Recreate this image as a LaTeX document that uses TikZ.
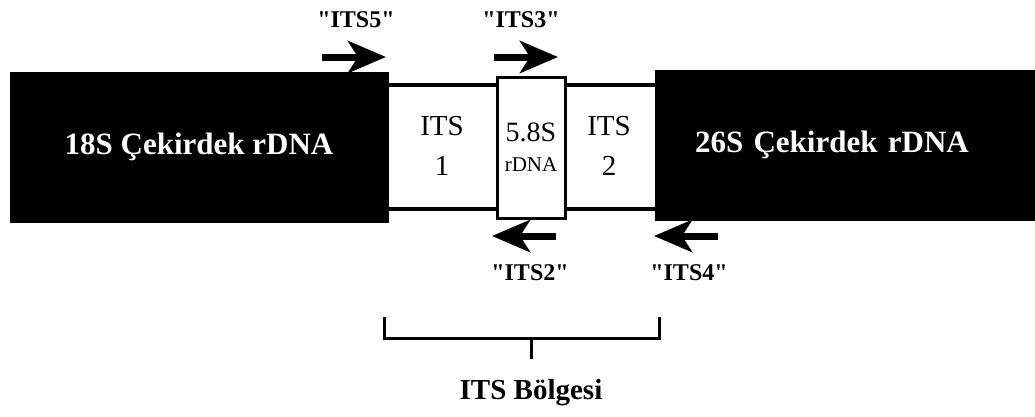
\documentclass[tikz,border=0pt]{standalone}
\usepackage{fontspec}
\setmainfont{Liberation Serif}
\usetikzlibrary{arrows.meta,positioning,calc}

\begin{document}
\begin{tikzpicture}[x=1pt,y=-1pt,
    gene/.style={fill=black, draw=black, text=white, inner sep=0pt,
      font=\fontsize{31}{34}\selectfont\bfseries, minimum height=150pt},
    band/.style={line width=3.5pt},
    primer/.style={-{Stealth[length=38pt,width=32pt,inset=10pt]}, line width=7pt},
    primerlbl/.style={font=\fontsize{24}{26}\selectfont\bfseries},
    seg/.style={font=\fontsize{29}{40}\selectfont, align=center}]
  \useasboundingbox (0,0) rectangle (1035,416);
  % Gene blocks
  \node[gene, minimum width=378pt] (s18) at (199,147) {18S Çekirdek rDNA};
  \node[gene, minimum width=380pt, text width=300pt, inner xsep=40pt, align=left]
    (s26) at (845,145) {26S Çekirdek rDNA};
  % ITS band
  \coordinate (bandtop) at (0,85);
  \coordinate (bandbot) at (0,209);
  \draw[band] (s18.east |- bandtop) -- (s26.west |- bandtop);
  \draw[band] (s18.east |- bandbot) -- (s26.west |- bandbot);
  \node[draw, fill=white, line width=3pt, minimum width=68pt, minimum height=141pt,
    inner sep=0pt, align=center] (s58) at (531,147.5)
    {{\fontsize{28}{30}\selectfont 5.8S}\\[15pt]{\fontsize{21}{23}\selectfont rDNA}};
  \node[seg] (its1) at (442,146) {ITS\\1};
  \node[seg] (its2) at (609,146) {ITS\\2};
  % Primers
  \coordinate (p5a) at (322,57);  \coordinate (p5b) at (386,57);
  \coordinate (p3a) at (494,57);  \coordinate (p3b) at (558,57);
  \coordinate (p2a) at (556,236); \coordinate (p2b) at (492,236);
  \coordinate (p4a) at (718,236); \coordinate (p4b) at (654,236);
  \draw[primer] (p5a) -- (p5b);
  \draw[primer] (p3a) -- (p3b);
  \draw[primer] (p2a) -- (p2b);
  \draw[primer] (p4a) -- (p4b);
  \node[primerlbl] (its5) at (356,20) {\textquotedbl ITS5\textquotedbl};
  \node[primerlbl] (its3) at (521,20) {\textquotedbl ITS3\textquotedbl};
  \node[primerlbl] (its2p) at (530,273) {\textquotedbl ITS2\textquotedbl};
  \node[primerlbl] (its4) at (689,273) {\textquotedbl ITS4\textquotedbl};
  % Region bracket
  \node[font=\fontsize{29}{32}\selectfont\bfseries] (region) at (531,393) {ITS Bölgesi};
  \coordinate (brl) at (384,317); \coordinate (brr) at (659,317);
  \coordinate (brm) at (531,338);
  \draw[line width=3pt] (brl) -- (brl |- brm) -- (brr |- brm) -- (brr);
  \draw[line width=3pt] (brm) -- ++(0,21);
\end{tikzpicture}
\end{document}
